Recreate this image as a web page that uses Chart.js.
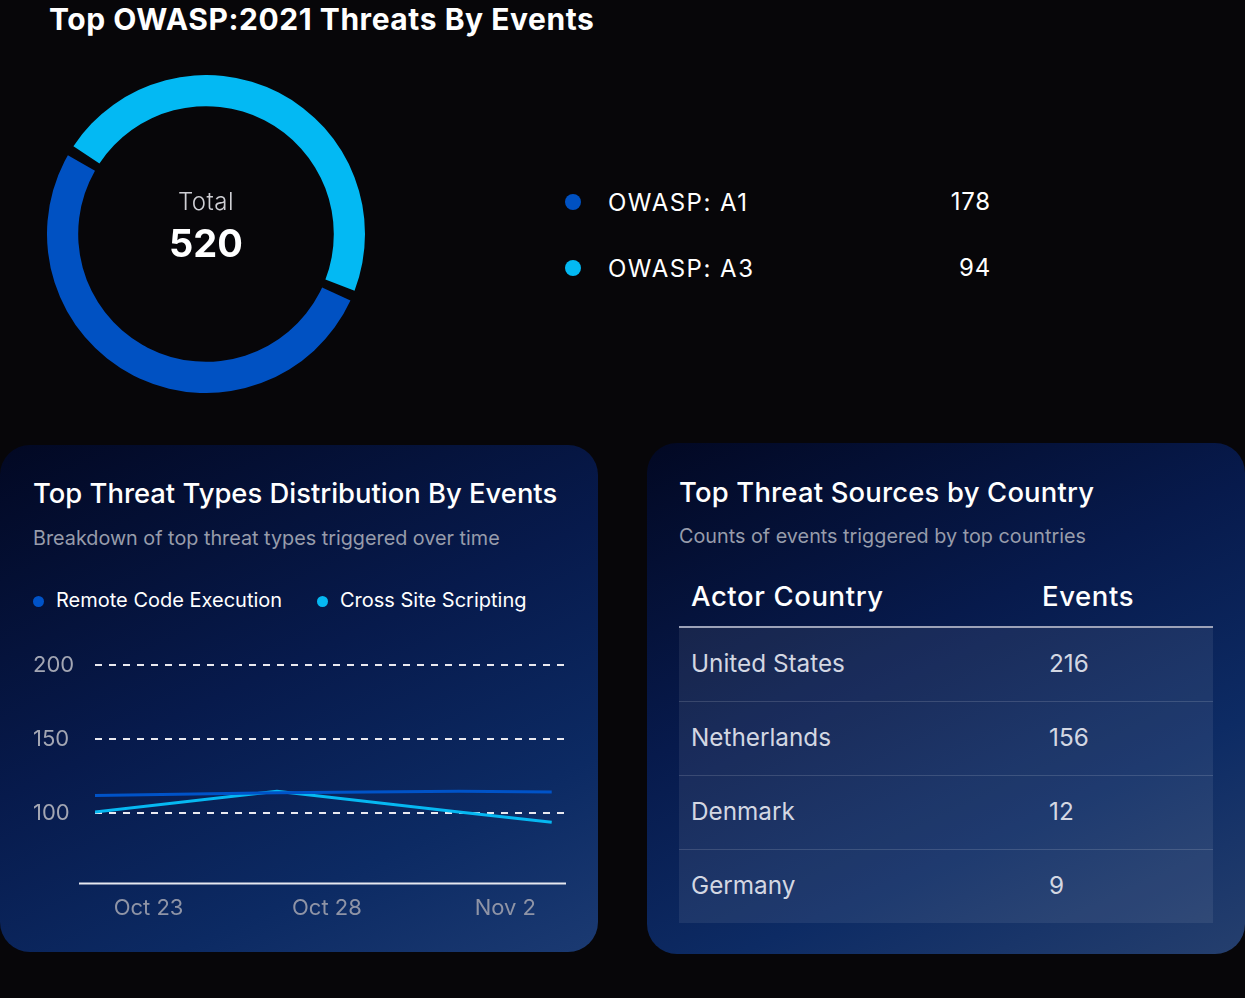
<!DOCTYPE html>
<html>
<head>
<meta charset="utf-8">
<script src="https://cdn.jsdelivr.net/npm/chart.js@4.4.0/dist/chart.umd.min.js"></script>
<style>
body{margin:0;background:#070609;width:1245px;height:998px;overflow:hidden;position:relative;font-family:Inter,"Noto Sans",sans-serif;color:#fff}
.abs{position:absolute}
#title{left:49px;top:1px;font-size:30px;font-weight:700;white-space:nowrap;letter-spacing:0.55px}
#ringWrap{left:47px;top:75px;width:318px;height:318px}
#total{left:106px;width:200px;top:187px;text-align:center;font-size:24px;color:#cfcfd4;font-weight:300;letter-spacing:0.5px}
#totalNum{left:106px;width:200px;top:220px;text-align:center;font-size:38px;font-weight:700}
.oleg{left:565px;width:430px;height:30px;font-size:24px;letter-spacing:1.5px}
.oleg .dot{position:absolute;left:0;top:7px;width:16px;height:16px;border-radius:50%}
.oleg .nm{position:absolute;left:43px;top:1px}
.oleg .ct{position:absolute;right:4px;top:0;letter-spacing:0.8px}
.card{border-radius:30px}
#card1{left:0;top:445px;width:598px;height:507px;background:linear-gradient(155deg,#020823 0%,#071a4c 45%,#0c2a63 75%,#1b3a72 100%)}
#card2{left:647px;top:443px;width:598px;height:511px;background:linear-gradient(155deg,#020823 0%,#071a4c 40%,#0d2b64 70%,#253f6e 100%)}
.ct1{font-size:27.4px;font-weight:500;white-space:nowrap}
.sub{font-size:19.8px;color:#979cab;white-space:nowrap}
.lleg{top:588px;font-size:20px;white-space:nowrap}
.lleg .dot{position:absolute;left:0;top:8px;width:11px;height:11px;border-radius:50%}
.lleg .nm{position:absolute;left:23px;top:0}
#lineWrap{left:0;top:640px;width:598px;height:300px}
table{position:absolute;left:679px;top:565px;width:534px;border-collapse:collapse}
th{font-size:27.5px;font-weight:500;text-align:left;height:61px;padding:0 0 0 12px;border-bottom:2px solid #9ca2b8;vertical-align:middle;letter-spacing:0.6px}
td{font-size:24.3px;color:#d3d7e2;height:70px;padding:0 0 3px 12px;background:rgba(255,255,255,0.075);border-top:1px solid rgba(255,255,255,0.14)}
td.v{padding-left:19px}
</style>
</head>
<body>
<div id="title" class="abs">Top OWASP:2021 Threats By Events</div>
<div id="ringWrap" class="abs"><canvas id="ring"></canvas></div>
<div id="total" class="abs">Total</div>
<div id="totalNum" class="abs"></div>
<div id="owaspLegend"></div>

<div id="card1" class="abs card"></div>
<div id="card2" class="abs card"></div>
<div class="abs ct1" style="left:33px;top:476px">Top Threat Types Distribution By Events</div>
<div class="abs sub" style="left:33px;top:526px">Breakdown of top threat types triggered over time</div>
<div id="lineLegend"></div>
<div id="lineWrap" class="abs"><canvas id="line"></canvas></div>

<div class="abs ct1" style="left:679px;top:475px;letter-spacing:0.2px">Top Threat Sources by Country</div>
<div class="abs sub" style="left:679px;top:524px">Counts of events triggered by top countries</div>
<table id="tbl"></table>

<script>
// donut
var owaspLabels = ['OWASP: A1', 'OWASP: A3'];
var owaspCounts = [178, 94];
var ringValues = [273, 247];
var ringColors = ['#0051c2', '#03b9f3'];
var totalEvents = 520;

// line chart
var threatNames = ['Remote Code Execution', 'Cross Site Scripting'];
var threatColors = ['#0053c8', '#06b8f2'];
var pointDays = [21.5, 26.6, 31.7, 34.3];   // days counted from Oct 0
var rceValues = [112, 114, 115, 114.5];
var xssValues = [101, 115, 101, 94];
var dayTicks = [23, 28, 33];
var dayLabels = ['Oct 23', 'Oct 28', 'Nov 2'];
var yTicks = [100, 150, 200];

// table
var countries = ['United States', 'Netherlands', 'Denmark', 'Germany'];
var countryEvents = [216, 156, 12, 9];

document.getElementById('totalNum').textContent = totalEvents;

var leg = '';
owaspLabels.forEach(function (l, i) {
  leg += '<div class="abs oleg" style="top:' + (187 + i * 66) + 'px"><span class="dot" style="background:' + ringColors[i] + '"></span>' +
    '<span class="nm">' + l + '</span><span class="ct">' + owaspCounts[i] + '</span></div>';
});
document.getElementById('owaspLegend').innerHTML = leg;

var lleg = '';
var legX = [33, 317];
threatNames.forEach(function (n, i) {
  lleg += '<div class="abs lleg" style="left:' + legX[i] + 'px"><span class="dot" style="background:' + threatColors[i] + '"></span><span class="nm">' + n + '</span></div>';
});
document.getElementById('lineLegend').innerHTML = lleg;

var rows = '<tr><th>Actor Country</th><th style="width:171px">Events</th></tr>';
countries.forEach(function (c, i) {
  rows += '<tr><td>' + c + '</td><td class="v">' + countryEvents[i] + '</td></tr>';
});
document.getElementById('tbl').innerHTML = rows;

new Chart(document.getElementById('ring'), {
  type: 'doughnut',
  data: {
    labels: owaspLabels,
    datasets: [{
      data: ringValues,
      backgroundColor: ringColors,
      borderWidth: 0,
      spacing: 6,
      hoverOffset: 0
    }]
  },
  options: {
    rotation: 112.7,
    cutout: '80%',
    animation: false,
    responsive: true,
    maintainAspectRatio: false,
    plugins: { legend: { display: false }, tooltip: { enabled: false } }
  }
});

function pts(vals) {
  return vals.map(function (v, i) { return { x: pointDays[i], y: v }; });
}

// white base line, a bit wider than the plot area
var baseLine = {
  id: 'baseLine',
  beforeDatasetsDraw: function (chart) {
    var a = chart.chartArea, ctx = chart.ctx;
    ctx.save();
    ctx.strokeStyle = '#e6e8f0';
    ctx.lineWidth = 2;
    ctx.beginPath();
    ctx.moveTo(a.left - 16, a.bottom);
    ctx.lineTo(a.right, a.bottom);
    ctx.stroke();
    ctx.restore();
  }
};

new Chart(document.getElementById('line'), {
  type: 'line',
  data: {
    datasets: [{
      label: threatNames[0],
      data: pts(rceValues),
      borderColor: threatColors[0],
      borderWidth: 3,
      pointRadius: 0,
      tension: 0
    }, {
      label: threatNames[1],
      data: pts(xssValues),
      borderColor: threatColors[1],
      borderWidth: 3,
      pointRadius: 0,
      tension: 0
    }]
  },
  plugins: [baseLine],
  options: {
    animation: false,
    responsive: true,
    maintainAspectRatio: false,
    layout: { padding: { left: 33, right: 32, top: 25, bottom: 6 } },
    plugins: { legend: { display: false }, tooltip: { enabled: false } },
    scales: {
      x: {
        type: 'linear',
        min: 21.5,
        max: 34.7,
        afterBuildTicks: function (s) { s.ticks = dayTicks.map(function (v) { return { value: v }; }); },
        grid: { display: false, drawTicks: false },
        border: { display: false },
        ticks: {
          padding: 12,
          color: '#8f94a6',
          font: { family: 'Inter', size: 22 },
          callback: function (v) { return dayLabels[dayTicks.indexOf(v)]; }
        }
      },
      y: {
        min: 52.7,
        max: 200,
        afterBuildTicks: function (s) { s.ticks = yTicks.map(function (v) { return { value: v }; }); },
        afterFit: function (s) { s.width = 62; },
        grid: { color: '#e9e9f0', lineWidth: 2, drawTicks: false },
        border: { display: false, dash: [7, 7] },
        ticks: {
          crossAlign: 'far',
          color: '#a3a6b3',
          font: { family: 'Inter', size: 22 }
        }
      }
    }
  }
});
</script>
</body>
</html>
